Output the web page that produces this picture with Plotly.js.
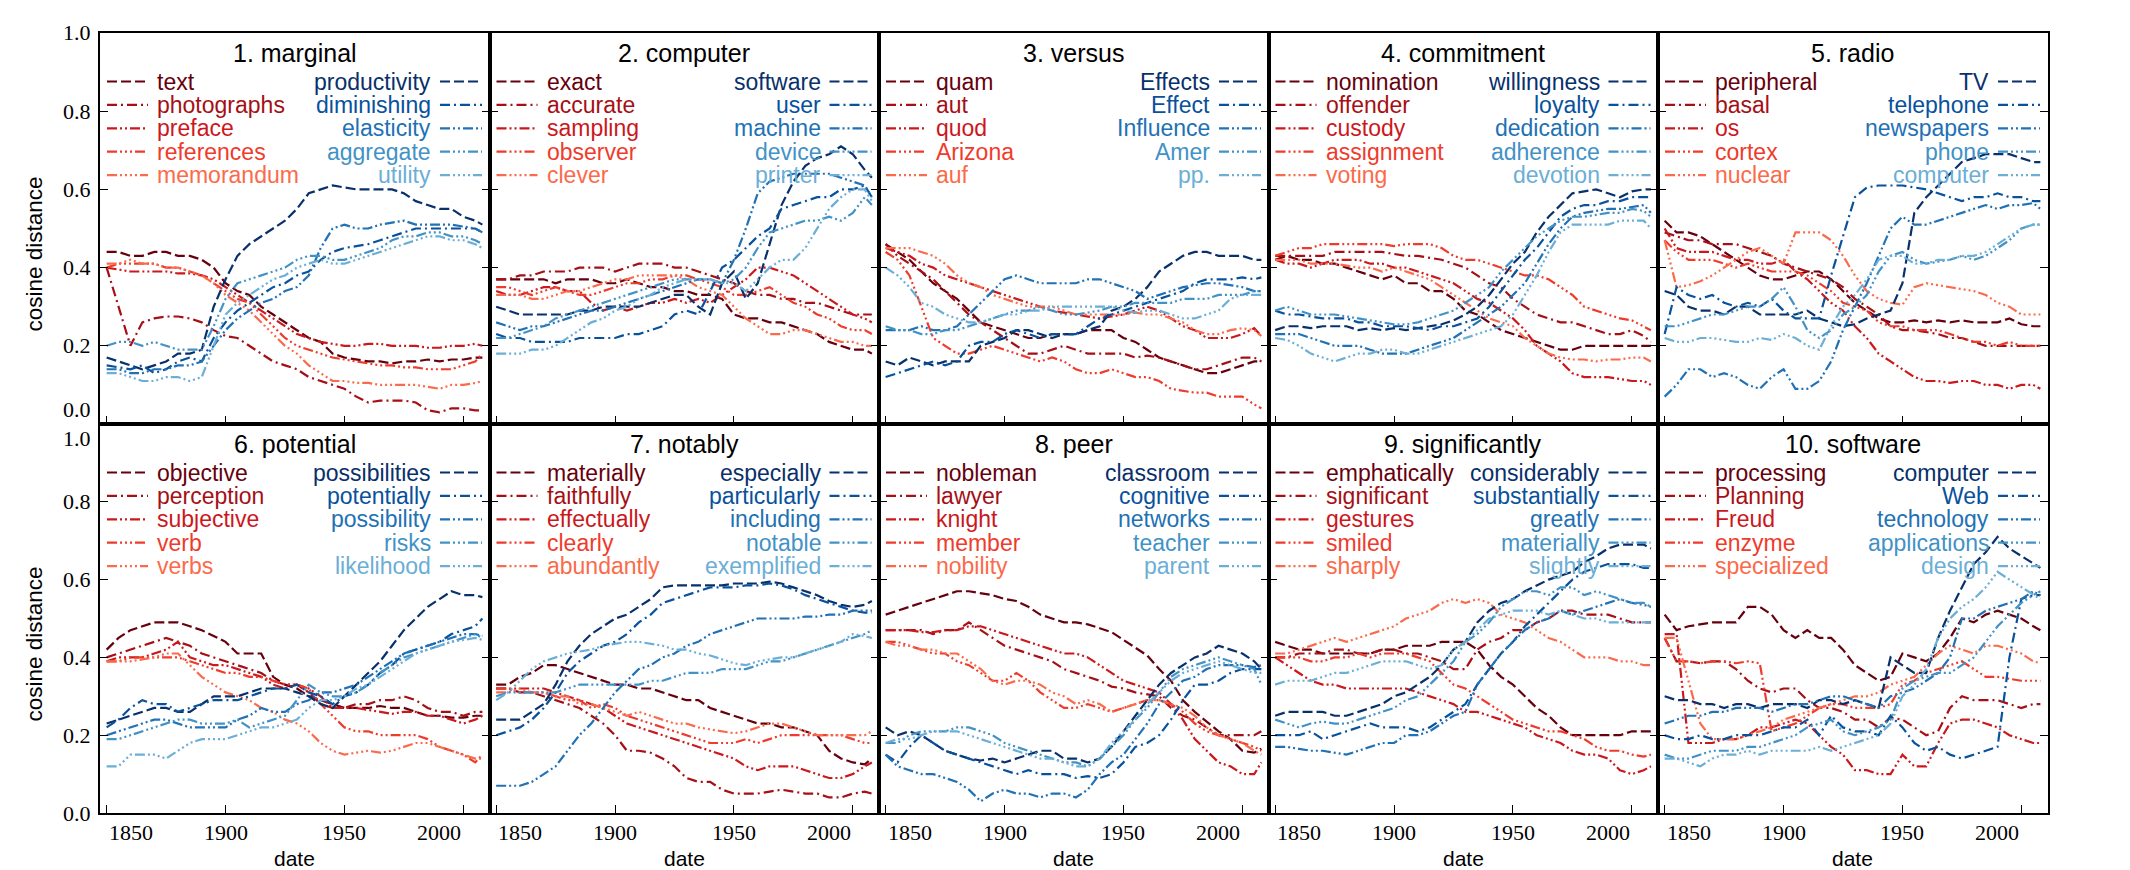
<!DOCTYPE html>
<html><head><meta charset="utf-8">
<script src="https://cdn.plot.ly/plotly-3.0.1.min.js"></script>
<style>html,body{margin:0;padding:0;background:#fff}#chart{width:2130px;height:870px}</style>
</head><body><div id="chart"></div>
<script>
const years = [1850,1855,1860,1865,1870,1875,1880,1885,1890,1895,1900,1905,1910,1915,1920,1925,1930,1935,1940,1945,1950,1955,1960,1965,1970,1975,1980,1985,1990,1995,2000,2005,2008];
const titles = ['1. marginal','2. computer','3. versus','4. commitment','5. radio','6. potential','7. notably','8. peer','9. significantly','10. software'];
const xTickVals = [1850,1900,1950,2000];
const yTickVals = [0,0.2,0.4,0.6,0.8,1.0];
const yTickText = ['0.0','0.2','0.4','0.6','0.8','1.0'];

// 1. marginal
const marginalRedWords = ['text','photographs','preface','references','memorandum'];
const marginalBlueWords = ['productivity','diminishing','elasticity','aggregate','utility'];
const marginalRed = [
 [0.44,0.44,0.43,0.43,0.44,0.44,0.43,0.43,0.42,0.40,0.36,0.34,0.33,0.30,0.28,0.26,0.24,0.22,0.21,0.18,0.17,0.165,0.16,0.16,0.155,0.16,0.16,0.165,0.16,0.165,0.165,0.17,0.17],
 [0.40,0.30,0.20,0.26,0.27,0.275,0.275,0.27,0.26,0.24,0.225,0.22,0.20,0.18,0.16,0.15,0.14,0.12,0.11,0.10,0.09,0.07,0.055,0.06,0.06,0.06,0.055,0.035,0.03,0.04,0.04,0.035,0.035],
 [0.40,0.395,0.39,0.39,0.39,0.39,0.385,0.385,0.38,0.37,0.35,0.33,0.31,0.29,0.27,0.25,0.23,0.22,0.21,0.205,0.20,0.20,0.205,0.205,0.20,0.20,0.20,0.195,0.195,0.20,0.20,0.205,0.20],
 [0.40,0.41,0.41,0.41,0.41,0.40,0.40,0.39,0.38,0.36,0.34,0.32,0.31,0.28,0.25,0.22,0.20,0.19,0.18,0.17,0.165,0.16,0.155,0.15,0.15,0.145,0.145,0.14,0.14,0.14,0.15,0.16,0.18],
 [0.41,0.41,0.42,0.41,0.41,0.40,0.40,0.39,0.38,0.36,0.33,0.31,0.29,0.26,0.23,0.20,0.18,0.15,0.13,0.11,0.11,0.105,0.105,0.10,0.10,0.10,0.10,0.095,0.09,0.10,0.10,0.105,0.11]
];
const marginalBlue = [
 [0.17,0.16,0.15,0.14,0.15,0.16,0.18,0.18,0.19,0.30,0.37,0.43,0.46,0.48,0.50,0.52,0.55,0.59,0.60,0.61,0.605,0.60,0.60,0.60,0.60,0.59,0.57,0.56,0.55,0.55,0.53,0.52,0.51],
 [0.15,0.145,0.14,0.15,0.13,0.14,0.16,0.17,0.16,0.22,0.26,0.29,0.31,0.33,0.35,0.36,0.38,0.39,0.42,0.44,0.45,0.455,0.46,0.47,0.48,0.49,0.50,0.50,0.50,0.50,0.50,0.50,0.49],
 [0.14,0.14,0.13,0.13,0.14,0.14,0.15,0.15,0.16,0.20,0.24,0.27,0.29,0.31,0.32,0.34,0.35,0.38,0.45,0.50,0.51,0.50,0.50,0.51,0.515,0.52,0.51,0.51,0.51,0.51,0.505,0.50,0.49],
 [0.20,0.21,0.21,0.20,0.21,0.20,0.19,0.19,0.19,0.25,0.32,0.36,0.37,0.38,0.39,0.40,0.42,0.43,0.43,0.42,0.42,0.43,0.44,0.45,0.47,0.48,0.48,0.49,0.49,0.48,0.48,0.47,0.46],
 [0.13,0.13,0.12,0.11,0.11,0.12,0.12,0.11,0.12,0.20,0.28,0.31,0.33,0.35,0.37,0.38,0.40,0.41,0.42,0.41,0.41,0.42,0.43,0.44,0.45,0.46,0.47,0.48,0.48,0.47,0.47,0.46,0.45]
];

// 2. computer
const computerRedWords = ['exact','accurate','sampling','observer','clever'];
const computerBlueWords = ['software','user','machine','device','printer'];
const computerRed = [
 [0.37,0.37,0.37,0.37,0.37,0.36,0.37,0.37,0.37,0.36,0.36,0.37,0.36,0.35,0.35,0.34,0.34,0.33,0.33,0.32,0.28,0.27,0.27,0.26,0.26,0.25,0.24,0.23,0.21,0.20,0.19,0.19,0.18],
 [0.37,0.37,0.38,0.38,0.39,0.39,0.39,0.40,0.40,0.40,0.39,0.40,0.41,0.41,0.41,0.40,0.40,0.39,0.38,0.37,0.36,0.34,0.33,0.33,0.32,0.32,0.31,0.31,0.30,0.29,0.28,0.28,0.28],
 [0.34,0.33,0.33,0.34,0.35,0.35,0.34,0.34,0.31,0.29,0.30,0.29,0.30,0.31,0.31,0.32,0.31,0.32,0.31,0.33,0.35,0.37,0.40,0.40,0.39,0.38,0.36,0.34,0.32,0.30,0.28,0.27,0.26],
 [0.35,0.35,0.34,0.33,0.34,0.35,0.34,0.33,0.33,0.34,0.35,0.36,0.36,0.37,0.37,0.38,0.38,0.37,0.36,0.35,0.33,0.33,0.34,0.35,0.33,0.31,0.30,0.28,0.27,0.25,0.24,0.24,0.23],
 [0.33,0.33,0.33,0.32,0.32,0.33,0.34,0.34,0.35,0.36,0.37,0.37,0.38,0.38,0.38,0.38,0.37,0.35,0.34,0.33,0.30,0.27,0.25,0.23,0.23,0.24,0.24,0.23,0.22,0.21,0.21,0.20,0.20]
];
const computerBlue = [
 [0.30,0.29,0.28,0.28,0.28,0.28,0.28,0.29,0.29,0.30,0.30,0.30,0.30,0.31,0.32,0.33,0.33,0.30,0.28,0.36,0.39,0.32,0.36,0.46,0.56,0.62,0.66,0.68,0.69,0.71,0.69,0.65,0.63],
 [0.23,0.22,0.22,0.21,0.21,0.21,0.21,0.22,0.22,0.22,0.22,0.23,0.23,0.24,0.25,0.28,0.29,0.28,0.34,0.40,0.42,0.45,0.48,0.50,0.55,0.56,0.57,0.58,0.58,0.60,0.60,0.61,0.58],
 [0.26,0.25,0.24,0.25,0.25,0.26,0.27,0.28,0.29,0.29,0.30,0.31,0.32,0.33,0.34,0.35,0.36,0.37,0.37,0.36,0.42,0.50,0.59,0.62,0.63,0.64,0.64,0.64,0.64,0.63,0.62,0.61,0.58],
 [0.22,0.22,0.23,0.24,0.25,0.27,0.28,0.29,0.30,0.31,0.32,0.33,0.34,0.35,0.36,0.37,0.37,0.37,0.37,0.36,0.37,0.40,0.45,0.49,0.50,0.51,0.52,0.52,0.53,0.52,0.54,0.58,0.56],
 [0.18,0.18,0.18,0.19,0.19,0.20,0.22,0.24,0.26,0.27,0.29,0.30,0.32,0.33,0.35,0.36,0.37,0.37,0.37,0.36,0.36,0.34,0.37,0.40,0.42,0.42,0.45,0.50,0.55,0.58,0.60,0.60,0.57]
];

// 3. versus
const versusRedWords = ['quam','aut','quod','Arizona','auf'];
const versusBlueWords = ['Effects','Effect','Influence','Amer','pp.'];
const versusRed = [
 [0.46,0.44,0.42,0.39,0.36,0.34,0.32,0.29,0.26,0.25,0.24,0.23,0.22,0.22,0.23,0.23,0.23,0.24,0.24,0.24,0.22,0.21,0.19,0.17,0.16,0.15,0.14,0.13,0.13,0.14,0.15,0.16,0.16],
 [0.46,0.43,0.41,0.39,0.37,0.34,0.31,0.28,0.26,0.24,0.22,0.20,0.18,0.18,0.19,0.20,0.19,0.18,0.18,0.18,0.18,0.17,0.175,0.17,0.16,0.15,0.14,0.14,0.15,0.16,0.17,0.17,0.16],
 [0.45,0.44,0.43,0.41,0.40,0.38,0.37,0.36,0.35,0.34,0.33,0.32,0.31,0.30,0.29,0.285,0.28,0.275,0.27,0.275,0.28,0.29,0.30,0.29,0.27,0.25,0.24,0.22,0.22,0.22,0.23,0.245,0.225],
 [0.44,0.42,0.38,0.30,0.22,0.20,0.18,0.18,0.19,0.20,0.19,0.18,0.17,0.16,0.17,0.16,0.14,0.13,0.13,0.14,0.13,0.12,0.12,0.11,0.09,0.085,0.08,0.08,0.07,0.07,0.07,0.05,0.04],
 [0.45,0.45,0.45,0.44,0.43,0.41,0.38,0.36,0.35,0.33,0.32,0.31,0.30,0.30,0.30,0.29,0.28,0.28,0.28,0.28,0.28,0.285,0.28,0.28,0.27,0.26,0.24,0.23,0.23,0.24,0.245,0.24,0.225]
];
const versusBlue = [
 [0.16,0.15,0.17,0.16,0.15,0.16,0.16,0.16,0.20,0.21,0.22,0.24,0.24,0.23,0.22,0.23,0.23,0.24,0.25,0.29,0.30,0.32,0.35,0.39,0.41,0.43,0.44,0.44,0.43,0.43,0.43,0.42,0.42],
 [0.12,0.13,0.14,0.15,0.16,0.15,0.16,0.20,0.21,0.21,0.23,0.24,0.23,0.22,0.23,0.23,0.23,0.25,0.27,0.28,0.29,0.30,0.31,0.32,0.33,0.34,0.36,0.37,0.37,0.37,0.375,0.37,0.375],
 [0.24,0.24,0.24,0.25,0.24,0.24,0.25,0.28,0.31,0.34,0.37,0.38,0.37,0.36,0.36,0.36,0.36,0.37,0.37,0.36,0.35,0.34,0.32,0.33,0.34,0.35,0.355,0.36,0.36,0.355,0.35,0.34,0.34],
 [0.25,0.24,0.24,0.23,0.23,0.24,0.24,0.25,0.26,0.27,0.28,0.29,0.29,0.30,0.29,0.28,0.28,0.285,0.29,0.30,0.30,0.31,0.31,0.31,0.31,0.32,0.32,0.32,0.33,0.33,0.33,0.34,0.34],
 [0.40,0.38,0.35,0.31,0.30,0.28,0.27,0.26,0.26,0.27,0.28,0.28,0.29,0.29,0.30,0.30,0.30,0.30,0.30,0.30,0.29,0.285,0.29,0.29,0.28,0.27,0.27,0.28,0.29,0.32,0.33,0.33,0.33]
];

// 4. commitment
const commitmentRedWords = ['nomination','offender','custody','assignment','voting'];
const commitmentBlueWords = ['willingness','loyalty','dedication','adherence','devotion'];
const commitmentRed = [
 [0.42,0.43,0.42,0.42,0.41,0.41,0.40,0.39,0.38,0.37,0.38,0.36,0.36,0.34,0.34,0.32,0.29,0.28,0.26,0.24,0.23,0.22,0.21,0.20,0.19,0.19,0.20,0.20,0.20,0.20,0.20,0.20,0.20],
 [0.43,0.43,0.43,0.43,0.43,0.44,0.44,0.44,0.44,0.44,0.435,0.43,0.43,0.425,0.42,0.41,0.40,0.38,0.36,0.35,0.32,0.30,0.28,0.27,0.26,0.26,0.25,0.24,0.23,0.23,0.24,0.225,0.21],
 [0.42,0.41,0.41,0.40,0.41,0.42,0.42,0.42,0.41,0.41,0.40,0.40,0.39,0.38,0.37,0.36,0.34,0.32,0.31,0.29,0.27,0.24,0.20,0.18,0.16,0.13,0.12,0.12,0.12,0.115,0.11,0.11,0.10],
 [0.43,0.44,0.45,0.45,0.46,0.46,0.46,0.46,0.46,0.46,0.455,0.46,0.46,0.46,0.45,0.43,0.42,0.42,0.41,0.40,0.39,0.38,0.38,0.37,0.35,0.33,0.30,0.29,0.28,0.27,0.265,0.25,0.24],
 [0.42,0.42,0.42,0.41,0.41,0.41,0.405,0.40,0.40,0.39,0.40,0.39,0.38,0.37,0.35,0.33,0.31,0.29,0.27,0.26,0.25,0.22,0.20,0.18,0.17,0.165,0.165,0.16,0.165,0.165,0.17,0.17,0.16]
];
const commitmentBlue = [
 [0.24,0.25,0.25,0.245,0.25,0.25,0.25,0.24,0.245,0.24,0.245,0.24,0.245,0.25,0.255,0.265,0.28,0.30,0.33,0.37,0.41,0.44,0.49,0.53,0.56,0.59,0.595,0.60,0.59,0.58,0.595,0.60,0.60],
 [0.29,0.28,0.28,0.275,0.27,0.27,0.27,0.26,0.26,0.25,0.25,0.25,0.245,0.24,0.25,0.25,0.26,0.27,0.30,0.34,0.38,0.42,0.45,0.49,0.53,0.55,0.56,0.56,0.57,0.57,0.58,0.58,0.58],
 [0.23,0.23,0.23,0.22,0.21,0.20,0.20,0.20,0.19,0.18,0.18,0.18,0.19,0.20,0.21,0.22,0.24,0.26,0.28,0.30,0.33,0.36,0.41,0.46,0.50,0.53,0.54,0.545,0.55,0.55,0.555,0.56,0.54],
 [0.29,0.30,0.29,0.28,0.28,0.28,0.275,0.27,0.265,0.26,0.255,0.255,0.26,0.27,0.28,0.29,0.31,0.33,0.35,0.39,0.42,0.45,0.48,0.50,0.52,0.53,0.53,0.535,0.54,0.54,0.55,0.545,0.53],
 [0.22,0.215,0.20,0.18,0.17,0.16,0.17,0.18,0.18,0.19,0.19,0.18,0.18,0.19,0.20,0.21,0.22,0.23,0.24,0.25,0.28,0.33,0.38,0.44,0.49,0.51,0.51,0.51,0.51,0.52,0.52,0.52,0.50]
];

// 5. radio
const radioRedWords = ['peripheral','basal','os','cortex','nuclear'];
const radioBlueWords = ['TV','telephone','newspapers','phone','computer'];
const radioRed = [
 [0.52,0.49,0.49,0.48,0.46,0.44,0.42,0.40,0.38,0.37,0.37,0.38,0.39,0.39,0.37,0.34,0.31,0.29,0.27,0.26,0.26,0.265,0.26,0.265,0.26,0.265,0.26,0.26,0.26,0.27,0.255,0.25,0.25],
 [0.49,0.48,0.47,0.47,0.46,0.46,0.46,0.45,0.44,0.43,0.41,0.40,0.39,0.38,0.37,0.35,0.32,0.30,0.28,0.25,0.24,0.24,0.235,0.23,0.22,0.22,0.21,0.20,0.20,0.20,0.20,0.20,0.20],
 [0.50,0.45,0.44,0.44,0.44,0.43,0.42,0.42,0.41,0.41,0.42,0.39,0.37,0.34,0.31,0.29,0.25,0.22,0.18,0.16,0.14,0.12,0.11,0.11,0.105,0.11,0.11,0.10,0.10,0.09,0.10,0.10,0.09],
 [0.47,0.44,0.42,0.42,0.42,0.41,0.40,0.41,0.40,0.39,0.39,0.39,0.38,0.36,0.34,0.31,0.30,0.29,0.26,0.25,0.25,0.24,0.24,0.24,0.23,0.22,0.21,0.21,0.20,0.21,0.20,0.20,0.20],
 [0.47,0.35,0.355,0.365,0.38,0.40,0.42,0.44,0.45,0.43,0.41,0.49,0.49,0.49,0.47,0.43,0.38,0.34,0.32,0.31,0.305,0.35,0.36,0.355,0.35,0.345,0.34,0.33,0.31,0.30,0.28,0.28,0.28]
];
const radioBlue = [
 [0.34,0.33,0.30,0.29,0.29,0.28,0.30,0.30,0.28,0.28,0.28,0.28,0.29,0.27,0.26,0.25,0.255,0.27,0.28,0.29,0.36,0.54,0.58,0.61,0.64,0.67,0.68,0.69,0.69,0.69,0.68,0.67,0.67],
 [0.23,0.35,0.33,0.32,0.33,0.31,0.30,0.31,0.30,0.32,0.29,0.27,0.27,0.27,0.38,0.48,0.58,0.605,0.61,0.61,0.61,0.605,0.60,0.59,0.58,0.57,0.58,0.58,0.59,0.58,0.58,0.57,0.57],
 [0.07,0.10,0.14,0.14,0.12,0.13,0.12,0.10,0.09,0.12,0.14,0.09,0.09,0.11,0.16,0.24,0.30,0.36,0.43,0.50,0.53,0.51,0.51,0.52,0.53,0.54,0.55,0.56,0.55,0.56,0.56,0.565,0.55],
 [0.25,0.25,0.26,0.27,0.28,0.28,0.29,0.30,0.30,0.32,0.35,0.30,0.24,0.22,0.24,0.28,0.30,0.33,0.39,0.43,0.44,0.42,0.41,0.415,0.42,0.43,0.42,0.43,0.45,0.47,0.50,0.51,0.51],
 [0.22,0.21,0.21,0.22,0.22,0.215,0.21,0.21,0.22,0.215,0.23,0.22,0.20,0.19,0.25,0.30,0.33,0.37,0.42,0.43,0.43,0.41,0.41,0.42,0.42,0.43,0.43,0.44,0.46,0.48,0.50,0.51,0.51]
];

// 6. potential
const potentialRedWords = ['objective','perception','subjective','verb','verbs'];
const potentialBlueWords = ['possibilities','potentially','possibility','risks','likelihood'];
const potentialRed = [
 [0.42,0.45,0.47,0.48,0.49,0.49,0.49,0.48,0.47,0.455,0.44,0.41,0.41,0.41,0.35,0.33,0.32,0.30,0.29,0.28,0.27,0.27,0.27,0.275,0.27,0.27,0.26,0.25,0.25,0.245,0.245,0.25,0.25],
 [0.40,0.41,0.42,0.43,0.44,0.45,0.44,0.43,0.41,0.40,0.39,0.38,0.37,0.36,0.34,0.33,0.33,0.31,0.28,0.27,0.27,0.28,0.28,0.29,0.29,0.30,0.29,0.27,0.26,0.26,0.25,0.26,0.26],
 [0.39,0.40,0.40,0.40,0.41,0.42,0.44,0.40,0.39,0.38,0.38,0.37,0.36,0.35,0.33,0.32,0.33,0.32,0.30,0.27,0.27,0.27,0.265,0.26,0.255,0.26,0.26,0.25,0.25,0.24,0.23,0.24,0.25],
 [0.39,0.39,0.40,0.40,0.40,0.40,0.40,0.39,0.38,0.37,0.36,0.36,0.35,0.35,0.34,0.33,0.33,0.32,0.28,0.25,0.22,0.21,0.21,0.20,0.20,0.20,0.20,0.19,0.17,0.16,0.15,0.13,0.15],
 [0.39,0.39,0.39,0.395,0.40,0.41,0.41,0.38,0.35,0.33,0.31,0.30,0.29,0.27,0.26,0.24,0.23,0.21,0.18,0.16,0.15,0.155,0.16,0.155,0.16,0.17,0.18,0.18,0.17,0.16,0.15,0.14,0.14]
];
const potentialBlue = [
 [0.23,0.24,0.25,0.26,0.27,0.27,0.26,0.26,0.28,0.30,0.30,0.30,0.31,0.32,0.32,0.32,0.31,0.30,0.28,0.27,0.30,0.33,0.36,0.39,0.43,0.47,0.50,0.53,0.55,0.57,0.56,0.56,0.555],
 [0.22,0.24,0.27,0.29,0.28,0.28,0.26,0.27,0.28,0.29,0.29,0.29,0.30,0.31,0.32,0.32,0.33,0.31,0.30,0.28,0.30,0.31,0.33,0.36,0.38,0.41,0.42,0.43,0.44,0.46,0.47,0.48,0.50],
 [0.20,0.21,0.22,0.23,0.24,0.24,0.23,0.22,0.22,0.22,0.22,0.24,0.25,0.27,0.26,0.26,0.28,0.29,0.31,0.31,0.32,0.33,0.35,0.37,0.39,0.41,0.42,0.43,0.44,0.45,0.46,0.46,0.455],
 [0.19,0.19,0.20,0.21,0.22,0.23,0.24,0.24,0.23,0.23,0.23,0.24,0.22,0.23,0.24,0.25,0.29,0.33,0.31,0.30,0.30,0.31,0.33,0.36,0.38,0.40,0.41,0.42,0.43,0.44,0.45,0.46,0.45],
 [0.12,0.12,0.15,0.15,0.15,0.14,0.16,0.18,0.19,0.19,0.19,0.20,0.21,0.22,0.22,0.23,0.24,0.27,0.29,0.29,0.30,0.32,0.33,0.35,0.37,0.39,0.41,0.42,0.43,0.44,0.445,0.45,0.445]
];

// 7. notably
const notablyRedWords = ['materially','faithfully','effectually','clearly','abundantly'];
const notablyBlueWords = ['especially','particularly','including','notable','exemplified'];
const notablyRed = [
 [0.33,0.33,0.35,0.36,0.38,0.38,0.37,0.36,0.35,0.34,0.33,0.33,0.32,0.32,0.31,0.30,0.29,0.29,0.27,0.26,0.25,0.24,0.23,0.23,0.22,0.22,0.21,0.20,0.16,0.14,0.13,0.125,0.14],
 [0.32,0.32,0.31,0.31,0.30,0.29,0.28,0.27,0.25,0.23,0.20,0.16,0.16,0.155,0.14,0.12,0.09,0.08,0.08,0.06,0.05,0.05,0.05,0.055,0.06,0.055,0.05,0.05,0.04,0.04,0.05,0.055,0.05],
 [0.32,0.32,0.32,0.32,0.32,0.31,0.30,0.29,0.28,0.27,0.25,0.23,0.22,0.21,0.20,0.19,0.18,0.17,0.16,0.15,0.14,0.12,0.11,0.12,0.12,0.12,0.11,0.10,0.09,0.09,0.10,0.12,0.13],
 [0.32,0.32,0.31,0.31,0.31,0.30,0.29,0.29,0.27,0.28,0.27,0.25,0.24,0.23,0.22,0.21,0.20,0.19,0.18,0.18,0.18,0.19,0.18,0.19,0.20,0.20,0.20,0.20,0.20,0.20,0.19,0.18,0.18],
 [0.31,0.31,0.32,0.31,0.31,0.30,0.30,0.28,0.28,0.27,0.26,0.25,0.26,0.25,0.24,0.23,0.23,0.22,0.215,0.21,0.205,0.21,0.22,0.23,0.23,0.22,0.21,0.20,0.20,0.20,0.20,0.20,0.21]
];
const notablyBlue = [
 [0.24,0.24,0.24,0.26,0.28,0.33,0.39,0.43,0.46,0.48,0.50,0.51,0.53,0.55,0.58,0.585,0.585,0.585,0.585,0.585,0.59,0.59,0.59,0.595,0.59,0.58,0.57,0.56,0.545,0.535,0.53,0.535,0.545],
 [0.20,0.21,0.22,0.24,0.27,0.31,0.36,0.39,0.41,0.43,0.44,0.46,0.49,0.51,0.54,0.55,0.56,0.57,0.58,0.58,0.58,0.585,0.585,0.59,0.585,0.575,0.56,0.55,0.54,0.53,0.52,0.515,0.515],
 [0.07,0.07,0.07,0.08,0.10,0.12,0.16,0.20,0.23,0.27,0.31,0.34,0.37,0.38,0.40,0.41,0.43,0.44,0.46,0.47,0.48,0.49,0.50,0.50,0.50,0.50,0.505,0.505,0.51,0.51,0.52,0.52,0.52],
 [0.30,0.31,0.31,0.31,0.31,0.31,0.32,0.33,0.33,0.33,0.33,0.33,0.33,0.34,0.34,0.35,0.36,0.36,0.36,0.37,0.37,0.37,0.38,0.39,0.39,0.40,0.41,0.42,0.43,0.44,0.45,0.46,0.47],
 [0.29,0.31,0.34,0.37,0.39,0.40,0.41,0.415,0.42,0.43,0.435,0.44,0.44,0.435,0.43,0.42,0.42,0.41,0.405,0.395,0.385,0.38,0.39,0.395,0.40,0.40,0.41,0.42,0.43,0.44,0.46,0.455,0.45]
];

// 8. peer
const peerRedWords = ['nobleman','lawyer','knight','member','nobility'];
const peerBlueWords = ['classroom','cognitive','networks','teacher','parent'];
const peerRed = [
 [0.51,0.52,0.53,0.54,0.55,0.56,0.57,0.57,0.565,0.56,0.55,0.545,0.53,0.51,0.50,0.49,0.49,0.485,0.475,0.465,0.445,0.425,0.405,0.37,0.34,0.29,0.26,0.235,0.21,0.19,0.16,0.155,0.165],
 [0.47,0.47,0.47,0.47,0.46,0.47,0.47,0.49,0.47,0.45,0.43,0.42,0.41,0.40,0.39,0.37,0.36,0.35,0.34,0.325,0.32,0.31,0.305,0.30,0.27,0.25,0.24,0.22,0.20,0.20,0.20,0.20,0.21],
 [0.47,0.47,0.47,0.465,0.465,0.47,0.47,0.48,0.48,0.47,0.46,0.45,0.44,0.43,0.42,0.41,0.41,0.40,0.38,0.36,0.34,0.33,0.32,0.31,0.28,0.24,0.19,0.16,0.13,0.12,0.10,0.10,0.13],
 [0.44,0.44,0.43,0.42,0.41,0.41,0.39,0.38,0.36,0.34,0.34,0.36,0.34,0.31,0.29,0.27,0.27,0.28,0.27,0.26,0.27,0.28,0.29,0.29,0.28,0.26,0.23,0.21,0.20,0.19,0.18,0.17,0.16],
 [0.44,0.43,0.43,0.42,0.42,0.41,0.41,0.39,0.37,0.34,0.33,0.34,0.34,0.33,0.31,0.30,0.28,0.29,0.28,0.26,0.27,0.28,0.29,0.29,0.28,0.27,0.25,0.22,0.20,0.19,0.18,0.16,0.15]
];
const peerBlue = [
 [0.22,0.20,0.21,0.20,0.18,0.16,0.15,0.14,0.135,0.14,0.13,0.14,0.15,0.16,0.16,0.14,0.14,0.13,0.14,0.17,0.21,0.25,0.29,0.33,0.36,0.38,0.40,0.41,0.43,0.42,0.41,0.39,0.37],
 [0.15,0.13,0.17,0.20,0.18,0.16,0.15,0.14,0.13,0.12,0.11,0.10,0.11,0.10,0.10,0.10,0.09,0.095,0.09,0.10,0.13,0.17,0.18,0.20,0.24,0.29,0.33,0.33,0.34,0.36,0.37,0.37,0.37],
 [0.15,0.12,0.11,0.10,0.10,0.09,0.08,0.06,0.03,0.05,0.06,0.05,0.05,0.04,0.05,0.05,0.04,0.06,0.10,0.13,0.15,0.19,0.23,0.28,0.31,0.34,0.35,0.37,0.38,0.38,0.38,0.375,0.38],
 [0.18,0.18,0.20,0.21,0.21,0.21,0.22,0.22,0.21,0.20,0.18,0.17,0.16,0.15,0.14,0.13,0.13,0.12,0.14,0.17,0.20,0.24,0.27,0.31,0.35,0.37,0.38,0.39,0.40,0.39,0.38,0.37,0.33],
 [0.18,0.19,0.19,0.20,0.21,0.21,0.21,0.20,0.19,0.18,0.17,0.16,0.15,0.14,0.14,0.13,0.12,0.12,0.14,0.18,0.21,0.24,0.28,0.31,0.34,0.36,0.37,0.38,0.39,0.38,0.37,0.36,0.36]
];

// 9. significantly
const significantlyRedWords = ['emphatically','significant','gestures','smiled','sharply'];
const significantlyBlueWords = ['considerably','substantially','greatly','materially','slightly'];
const significantlyRed = [
 [0.44,0.43,0.42,0.42,0.41,0.41,0.41,0.41,0.41,0.42,0.42,0.43,0.43,0.43,0.44,0.44,0.44,0.42,0.38,0.35,0.33,0.30,0.27,0.25,0.22,0.20,0.20,0.20,0.20,0.20,0.21,0.21,0.21],
 [0.40,0.40,0.41,0.41,0.41,0.42,0.42,0.41,0.41,0.42,0.42,0.41,0.41,0.40,0.39,0.37,0.37,0.42,0.44,0.45,0.47,0.47,0.49,0.50,0.52,0.52,0.51,0.51,0.51,0.50,0.49,0.49,0.49],
 [0.40,0.38,0.36,0.34,0.33,0.33,0.32,0.32,0.32,0.32,0.32,0.32,0.31,0.30,0.29,0.28,0.26,0.26,0.25,0.24,0.23,0.22,0.20,0.19,0.18,0.16,0.15,0.15,0.14,0.11,0.10,0.11,0.12],
 [0.40,0.40,0.40,0.39,0.39,0.40,0.40,0.41,0.40,0.41,0.41,0.41,0.40,0.39,0.36,0.33,0.32,0.30,0.28,0.26,0.24,0.23,0.22,0.21,0.21,0.20,0.19,0.17,0.16,0.16,0.15,0.145,0.15],
 [0.41,0.41,0.42,0.43,0.44,0.45,0.44,0.45,0.46,0.47,0.48,0.50,0.51,0.52,0.54,0.55,0.54,0.55,0.54,0.51,0.50,0.49,0.47,0.45,0.44,0.42,0.40,0.40,0.40,0.39,0.39,0.38,0.38]
];
const significantlyBlue = [
 [0.25,0.26,0.26,0.26,0.26,0.25,0.25,0.26,0.27,0.28,0.30,0.31,0.33,0.35,0.38,0.42,0.44,0.49,0.52,0.54,0.55,0.57,0.585,0.60,0.61,0.62,0.645,0.66,0.68,0.69,0.69,0.69,0.68],
 [0.20,0.20,0.20,0.21,0.19,0.20,0.21,0.22,0.23,0.22,0.22,0.22,0.21,0.22,0.24,0.26,0.28,0.33,0.37,0.41,0.44,0.48,0.51,0.54,0.57,0.60,0.62,0.63,0.64,0.64,0.64,0.63,0.63],
 [0.17,0.17,0.165,0.16,0.16,0.155,0.15,0.16,0.17,0.18,0.18,0.20,0.20,0.21,0.23,0.25,0.26,0.33,0.37,0.41,0.44,0.47,0.49,0.50,0.52,0.51,0.52,0.53,0.54,0.55,0.54,0.535,0.53],
 [0.24,0.23,0.22,0.23,0.235,0.23,0.23,0.24,0.25,0.26,0.27,0.29,0.30,0.33,0.36,0.39,0.44,0.46,0.49,0.53,0.55,0.57,0.57,0.56,0.58,0.58,0.56,0.57,0.56,0.55,0.54,0.54,0.53],
 [0.33,0.34,0.34,0.34,0.35,0.36,0.36,0.37,0.38,0.39,0.39,0.39,0.38,0.37,0.38,0.42,0.44,0.47,0.50,0.51,0.52,0.52,0.52,0.51,0.52,0.51,0.50,0.50,0.49,0.49,0.49,0.49,0.49]
];

// 10. software
const softwareRedWords = ['processing','Planning','Freud','enzyme','specialized'];
const softwareBlueWords = ['computer','Web','technology','applications','design'];
const softwareRed = [
 [0.51,0.47,0.48,0.485,0.49,0.49,0.49,0.53,0.53,0.51,0.47,0.45,0.47,0.45,0.45,0.42,0.38,0.36,0.34,0.35,0.41,0.40,0.39,0.41,0.45,0.50,0.49,0.51,0.52,0.51,0.50,0.48,0.47],
 [0.45,0.39,0.39,0.385,0.39,0.39,0.37,0.34,0.32,0.31,0.32,0.32,0.29,0.27,0.27,0.26,0.24,0.24,0.22,0.245,0.24,0.22,0.20,0.21,0.27,0.30,0.29,0.29,0.29,0.28,0.27,0.28,0.28],
 [0.46,0.46,0.18,0.18,0.18,0.19,0.19,0.20,0.22,0.22,0.23,0.24,0.23,0.20,0.17,0.15,0.11,0.11,0.10,0.10,0.15,0.12,0.12,0.18,0.23,0.24,0.24,0.23,0.22,0.20,0.19,0.18,0.18],
 [0.45,0.39,0.39,0.385,0.39,0.39,0.385,0.39,0.385,0.21,0.22,0.23,0.25,0.27,0.28,0.28,0.27,0.27,0.27,0.28,0.33,0.34,0.36,0.37,0.38,0.39,0.37,0.35,0.35,0.345,0.34,0.34,0.34],
 [0.45,0.45,0.34,0.23,0.19,0.19,0.19,0.20,0.21,0.22,0.24,0.25,0.26,0.27,0.28,0.29,0.30,0.30,0.31,0.33,0.34,0.35,0.38,0.41,0.43,0.42,0.41,0.43,0.43,0.42,0.41,0.39,0.385]
];
const softwareBlue = [
 [0.30,0.29,0.29,0.28,0.28,0.27,0.28,0.28,0.27,0.28,0.28,0.28,0.27,0.29,0.29,0.28,0.29,0.28,0.27,0.40,0.38,0.36,0.36,0.45,0.52,0.58,0.64,0.67,0.71,0.68,0.66,0.64,0.63],
 [0.20,0.19,0.19,0.20,0.19,0.19,0.20,0.20,0.20,0.21,0.22,0.22,0.24,0.20,0.25,0.22,0.21,0.21,0.20,0.25,0.22,0.18,0.16,0.17,0.15,0.14,0.15,0.16,0.17,0.40,0.55,0.56,0.56],
 [0.23,0.24,0.25,0.25,0.26,0.26,0.27,0.27,0.27,0.26,0.27,0.28,0.28,0.29,0.30,0.30,0.29,0.28,0.27,0.30,0.31,0.32,0.34,0.36,0.40,0.50,0.50,0.52,0.53,0.54,0.55,0.57,0.56],
 [0.15,0.14,0.14,0.15,0.16,0.16,0.16,0.17,0.17,0.18,0.19,0.20,0.22,0.23,0.24,0.21,0.20,0.21,0.22,0.24,0.32,0.34,0.35,0.36,0.36,0.38,0.40,0.44,0.48,0.51,0.54,0.56,0.57],
 [0.14,0.14,0.13,0.12,0.14,0.15,0.15,0.16,0.15,0.16,0.16,0.16,0.16,0.17,0.16,0.17,0.18,0.19,0.20,0.23,0.30,0.33,0.37,0.45,0.50,0.53,0.55,0.58,0.62,0.60,0.58,0.56,0.55]
];

const reds = ['#67000d','#a50f15','#cb181d','#ef3b2c','#fb6a4a'];
const blues = ['#08306b','#08519c','#2171b5','#4292c6','#6baed6'];
const dashes = ['10px,4px','10px,4px,2px,4px','10px,3px,2px,3px,2px,3px','10px,3px,2px,3px,2px,3px,2px,3px','10px,3px,2px,3px,2px,3px,2px,3px,2px,3px'];

const panels = [
 [marginalRedWords, marginalBlueWords, marginalRed, marginalBlue],
 [computerRedWords, computerBlueWords, computerRed, computerBlue],
 [versusRedWords, versusBlueWords, versusRed, versusBlue],
 [commitmentRedWords, commitmentBlueWords, commitmentRed, commitmentBlue],
 [radioRedWords, radioBlueWords, radioRed, radioBlue],
 [potentialRedWords, potentialBlueWords, potentialRed, potentialBlue],
 [notablyRedWords, notablyBlueWords, notablyRed, notablyBlue],
 [peerRedWords, peerBlueWords, peerRed, peerBlue],
 [significantlyRedWords, significantlyBlueWords, significantlyRed, significantlyBlue],
 [softwareRedWords, softwareBlueWords, softwareRed, softwareBlue]
];

// ---- layout geometry (pixels) ----
const W = 2130, H = 870;
const colL = [100, 489.5, 879, 1268.5, 1658];
const colW = 389.5;
const rowT = [33, 424];
const rowH = [391, 389];
const fx = p => p / W;
const fy = p => 1 - p / H;
const sans = 'Liberation Sans, Arial, sans-serif';
const serif = 'Liberation Serif, Times New Roman, serif';

const data = [];
const layout = {
  width: W, height: H,
  margin: {l: 0, r: 0, t: 0, b: 0},
  paper_bgcolor: '#fff', plot_bgcolor: 'rgba(0,0,0,0)',
  showlegend: false,
  annotations: [], shapes: []
};

panels.forEach((p, k) => {
  const [rw, bw, rv, bv] = p;
  const row = Math.floor(k / 5), col = k % 5;
  const L = colL[col], T = rowT[row], Hh = rowH[row];
  const n = k + 1;
  const xa = 'x' + (n === 1 ? '' : n), ya = 'y' + (n === 1 ? '' : n);
  rv.forEach((vals, i) => {
    data.push({x: years, y: vals, xaxis: xa, yaxis: ya, type: 'scatter', mode: 'lines',
      line: {color: reds[i], width: 2.2, dash: dashes[i]}, hoverinfo: 'skip'});
  });
  bv.forEach((vals, i) => {
    data.push({x: years, y: vals, xaxis: xa, yaxis: ya, type: 'scatter', mode: 'lines',
      line: {color: blues[i], width: 2.2, dash: dashes[i]}, hoverinfo: 'skip'});
  });
  layout['xaxis' + (n === 1 ? '' : n)] = {
    domain: [fx(L), fx(L + colW)], anchor: ya, range: [1847.2, 2011],
    tickvals: xTickVals, ticks: 'inside', ticklen: 8, tickwidth: 1, tickcolor: '#000',
    showline: true, linewidth: 2, linecolor: '#000', mirror: true,
    showgrid: false, zeroline: false, showticklabels: false, fixedrange: true
  };
  layout['yaxis' + (n === 1 ? '' : n)] = {
    domain: [fy(T + Hh), fy(T)], anchor: xa, range: [0, 1],
    tickvals: [0.2, 0.4, 0.6, 0.8],
    ticks: 'inside', ticklen: 8, tickwidth: 1, tickcolor: '#000',
    showline: true, linewidth: 2, linecolor: '#000', mirror: 'ticks',
    showgrid: false, zeroline: false, showticklabels: false, fixedrange: true
  };
  // x tick labels (bottom row): first label left-aligned, last right-aligned, as in the reference
  if (row === 1) {
    xTickVals.forEach((v, j) => {
      layout.annotations.push({xref: xa, yref: 'paper', x: v, y: fy(832), text: String(v), showarrow: false,
        xanchor: j === 0 ? 'left' : (j === xTickVals.length - 1 ? 'right' : 'center'), yanchor: 'middle',
        font: {family: serif, size: 22, color: '#000'}});
    });
    layout.annotations.push({xref: 'paper', yref: 'paper', x: fx(L + colW / 2), y: fy(858),
      text: 'date', showarrow: false, xanchor: 'center', yanchor: 'middle',
      font: {family: sans, size: 21, color: '#000'}});
  }
  // y tick labels (first column)
  if (col === 0) {
    yTickVals.forEach((v, j) => {
      let ya2 = 'middle';
      if (row === 0 && v === 0) ya2 = 'bottom';
      if (row === 1 && v === 1) ya2 = 'top';
      layout.annotations.push({xref: 'paper', yref: ya, x: fx(93), y: v, text: yTickText[j], showarrow: false,
        xanchor: 'right', yanchor: ya2, font: {family: serif, size: 22, color: '#000'}});
    });
  }
  // title
  layout.annotations.push({xref: 'paper', yref: 'paper', x: fx(L + colW / 2), y: fy(T + 20),
    text: titles[k], showarrow: false, xanchor: 'center', yanchor: 'middle',
    font: {family: sans, size: 25, color: '#000'}});
  // legends
  for (let i = 0; i < 5; i++) {
    const yy = T + 48.5 + i * 23.4;
    layout.annotations.push({xref: 'paper', yref: 'paper', x: fx(L + 55), y: fy(yy),
      text: rw[i], showarrow: false, xanchor: 'left', yanchor: 'middle',
      font: {family: sans, size: 23, color: reds[i]}});
    layout.annotations.push({xref: 'paper', yref: 'paper', x: fx(L + 333), y: fy(yy),
      text: bw[i], showarrow: false, xanchor: 'right', yanchor: 'middle',
      font: {family: sans, size: 23, color: blues[i]}});
    layout.shapes.push({type: 'line', xref: 'paper', yref: 'paper', x0: fx(L + 7), x1: fx(L + 48), y0: fy(yy), y1: fy(yy),
      line: {color: reds[i], width: 2.2, dash: dashes[i]}});
    layout.shapes.push({type: 'line', xref: 'paper', yref: 'paper', x0: fx(L + 340), x1: fx(L + 382), y0: fy(yy), y1: fy(yy),
      line: {color: blues[i], width: 2.2, dash: dashes[i]}});
  }
});
rowT.forEach((T, r) => {
  layout.annotations.push({xref: 'paper', yref: 'paper', x: fx(34), y: fy(T + rowH[r] / 2 + 26),
    text: 'cosine distance', showarrow: false, textangle: -90, xanchor: 'center', yanchor: 'middle',
    font: {family: sans, size: 22.5, color: '#000'}});
});

Plotly.newPlot('chart', data, layout, {displayModeBar: false, staticPlot: true});
</script>
</body></html>
